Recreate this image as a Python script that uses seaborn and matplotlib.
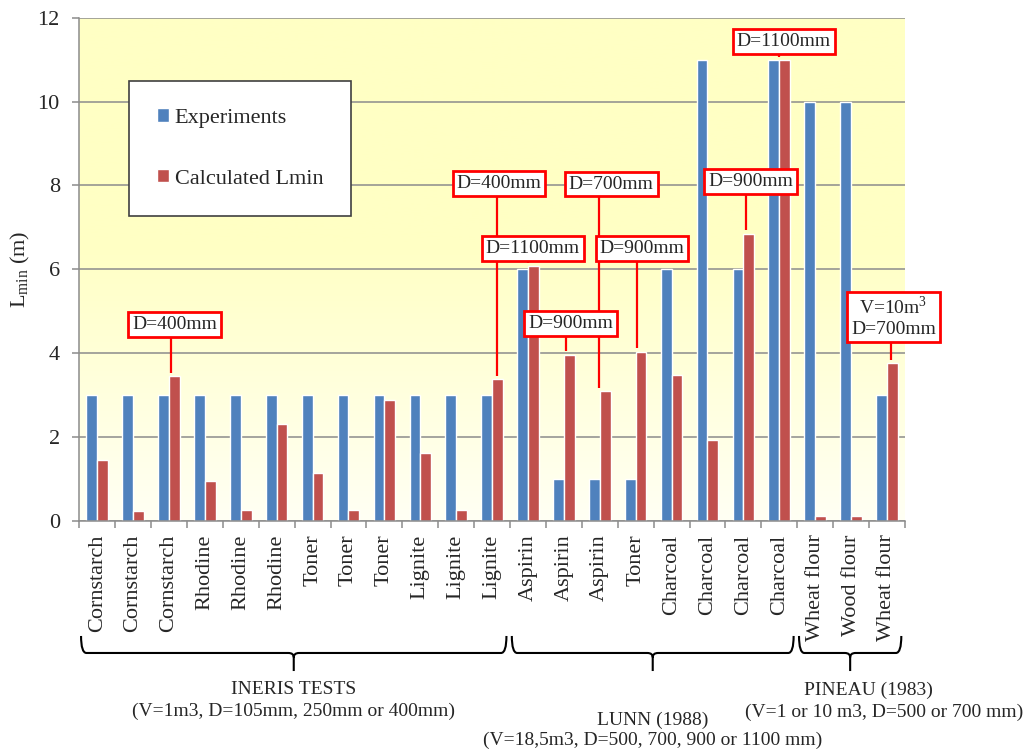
import numpy as np
import pandas as pd
import seaborn as sns
import matplotlib.pyplot as plt
from matplotlib.path import Path
from matplotlib.patches import PathPatch
from matplotlib.transforms import blended_transform_factory

# --- data ---
categories = ["Cornstarch", "Cornstarch", "Cornstarch", "Rhodine", "Rhodine", "Rhodine",
              "Toner", "Toner", "Toner", "Lignite", "Lignite", "Lignite",
              "Aspirin", "Aspirin", "Aspirin", "Toner",
              "Charcoal", "Charcoal", "Charcoal", "Charcoal",
              "Wheat flour", "Wood flour", "Wheat flour"]
experiments = [3, 3, 3, 3, 3, 3, 3, 3, 3, 3, 3, 3,
               6, 1, 1, 1, 6, 11, 6, 11, 10, 10, 3]
calculated = [1.45, 0.24, 3.45, 0.94, 0.26, 2.31, 1.14, 0.26, 2.89, 1.62, 0.26, 3.37,
              6.07, 3.96, 3.09, 4.03, 3.48, 1.92, 6.85, 10.99, 0.12, 0.12, 3.76]
series_names = ["Experiments", "Calculated Lmin"]

# annotations: label, bar index, box centre (x in category units, y in m)
ann_labels = ["D=400mm", "D=400mm", "D=1100mm", "D=900mm", "D=700mm", "D=900mm",
              "D=900mm", "D=1100mm", "V=10m$^{\\mathregular{3}}$\nD=700mm"]
ann_bar = [2, 11, 12, 13, 14, 15, 18, 19, 22]
ann_box_x = [2.16, 11.19, 12.13, 13.18, 14.32, 15.18, 18.2, 19.13, 22.18]
ann_box_y = [4.68, 8.05, 6.49, 4.70, 8.03, 6.49, 8.09, 11.44, 4.86]
ann_line_x = [2.05, 11.14, 12.0, 13.05, 13.98, 15.05, 18.06, 19.0, 22.11]

# groups under the axis
group_first = [0, 12, 20]
group_last = [11, 19, 22]
group_title = ["INERIS TESTS", "LUNN (1988)", "PINEAU (1983)"]
group_sub = ["(V=1m3, D=105mm, 250mm or 400mm)",
             "(V=18,5m3, D=500, 700, 900 or 1100 mm)",
             "(V=1 or 10 m3, D=500 or 700 mm)"]

BLUE = "#4F81BD"
RED = "#C0504D"

sns.set_style("white")
plt.rcParams['font.family'] = ['Liberation Serif', 'DejaVu Serif']

df = pd.DataFrame({
    "pos": list(range(len(categories))) * 2,
    "series": [series_names[0]] * len(categories) + [series_names[1]] * len(categories),
    "value": experiments + calculated,
})

fig = plt.figure(figsize=(10.24, 7.49), dpi=100)
ax = fig.add_axes([0.0774, 0.3048, 0.8063, 0.6716])

# yellow gradient background
t = np.linspace(0, 1, 256)
k = np.clip(t / 0.55, 0, 1)
grad = np.zeros((256, 1, 3))
grad[:, 0, 0] = 1.0
grad[:, 0, 1] = 1.0
grad[:, 0, 2] = (244 - (244 - 196) * k) / 255
ax.imshow(grad, extent=(0, 1, 0, 1), transform=ax.transAxes, origin="lower",
          aspect="auto", zorder=0)

sns.barplot(data=df, x="pos", y="value", hue="series", palette=[BLUE, RED],
            width=0.6, saturation=1, errorbar=None, ax=ax, zorder=2)

ax.set_xlim(-0.5, len(categories) - 0.5)
ax.set_ylim(0, 12)
ax.set_yticks(np.arange(0, 13, 2))
ax.set_axisbelow(True)
ax.grid(axis="y", color="#8c8c8c", lw=1.1)
ax.grid(axis="x", visible=False)

for s in ["top", "right"]:
    ax.spines[s].set_visible(False)
for s in ["left", "bottom"]:
    ax.spines[s].set_color("#8c8c8c")
    ax.spines[s].set_linewidth(1.1)

# ticks at category boundaries, labels at centres
ax.set_xticks(np.arange(-0.5, len(categories), 1))
ax.set_xticklabels([])
ax.set_xticks(range(len(categories)), minor=True)
ax.set_xticklabels(categories, minor=True, rotation=90, fontsize=16)
ax.tick_params(axis="x", which="major", direction="out", length=5, width=1.1,
               color="#8c8c8c", bottom=True)
ax.tick_params(axis="x", which="minor", length=0, pad=10, bottom=True)
ax.tick_params(axis="y", direction="out", length=5, width=1.1, color="#8c8c8c",
               labelsize=16, pad=9, left=True)
ax.set_xlabel("")
ax.set_ylabel(r"L$_{\mathregular{min}}$ (m)", fontsize=16)
ax.yaxis.set_label_coords(-0.057, 0.5)

# legend
handles, labels = ax.get_legend_handles_labels()
leg = ax.legend(handles, labels, loc="upper left", bbox_to_anchor=(0.0606, 0.875),
                borderaxespad=0, fontsize=16, frameon=True, fancybox=False,
                edgecolor="#404040", framealpha=1, labelspacing=1.85,
                handlelength=0.55, handleheight=0.55, handletextpad=0.25,
                borderpad=1.25)
leg.get_frame().set_linewidth(1.2)

# red callouts
for lab, b, bx, by, lx in zip(ann_labels, ann_bar, ann_box_x, ann_box_y, ann_line_x):
    ax.plot([lx, lx], [by, calculated[b] + 0.08], color="#FF0000", lw=1.6,
            zorder=5, solid_capstyle="butt")
    ax.text(bx, by, lab, ha="center", va="center", fontsize=14, zorder=6,
            multialignment="center",
            bbox=dict(boxstyle="square,pad=0.2", fc="white", ec="#FF0000", lw=2))

# braces and group labels below the axis
trans = blended_transform_factory(ax.transData, fig.transFigure)
y_top, y_line, y_tip = 0.1509, 0.1282, 0.1041
title_y = [0.0788, 0.0387, 0.0788]
sub_y = [0.0498, 0.0120, 0.0490]
title_dx = [0.0, 0.0, 0.5]
sub_dx = [0.0, 0.0, 0.95]
for i in range(len(group_first)):
    x0 = group_first[i] - 0.45
    x1 = group_last[i] + 0.4
    xm = (x0 + x1) / 2
    r = 0.15
    dy = 0.006
    verts = [(x0, y_top), (x0, y_line), (x0 + r, y_line), (xm - r, y_line),
             (xm, y_line), (xm, y_line - dy), (xm, y_tip),
             (xm, y_line - dy), (xm, y_line), (xm + r, y_line), (x1 - r, y_line),
             (x1, y_line), (x1, y_top)]
    codes = [Path.MOVETO, Path.CURVE3, Path.CURVE3, Path.LINETO,
             Path.CURVE3, Path.CURVE3, Path.LINETO,
             Path.MOVETO, Path.CURVE3, Path.CURVE3, Path.LINETO,
             Path.CURVE3, Path.CURVE3]
    fig.add_artist(PathPatch(Path(verts, codes), transform=trans, fill=False,
                             lw=1.5, ec="black", clip_on=False))
    fig.text(xm + title_dx[i], title_y[i], group_title[i], transform=trans,
             ha="center", va="center", fontsize=14)
    fig.text(xm + sub_dx[i], sub_y[i], group_sub[i], transform=trans,
             ha="center", va="center", fontsize=14)

fig.savefig("out.png", dpi=100)
